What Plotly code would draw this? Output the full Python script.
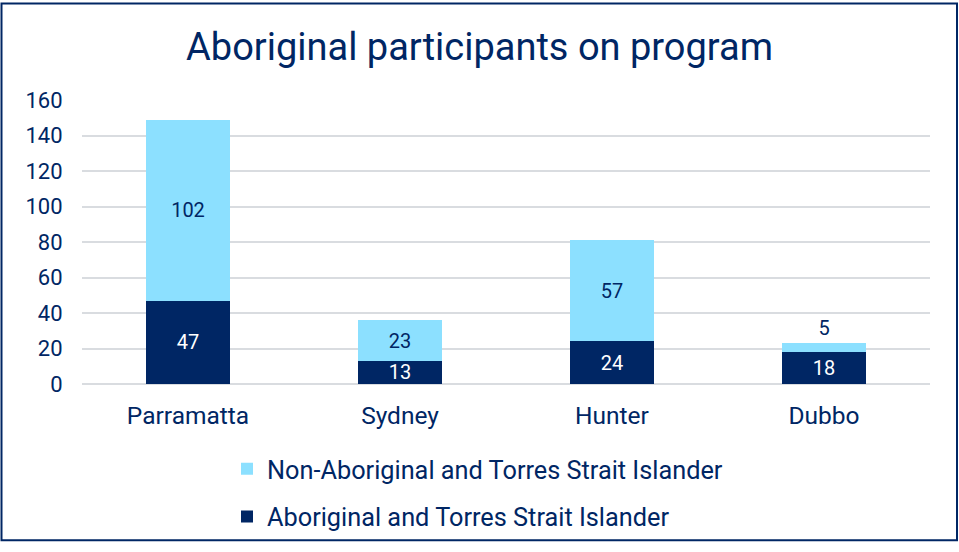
import plotly.graph_objects as go

categories = ["Parramatta", "Sydney", "Hunter", "Dubbo"]
aboriginal = [47, 13, 24, 18]
non_aboriginal = [102, 23, 57, 5]
series_names = ["Aboriginal and Torres Strait Islander", "Non-Aboriginal and Torres Strait Islander"]
y_ticks = [0, 20, 40, 60, 80, 100, 120, 140, 160]

NAVY = "#002664"
LIGHT = "#8CE0FF"
FONT = "Roboto"

W, H = 959, 552
ML, MR, MT, MB = 82, 29, 100, 162
PW, PH = W - ML - MR, H - MT - MB

fig = go.Figure()
fig.add_trace(go.Bar(
    x=categories, y=aboriginal, name=series_names[0],
    marker=dict(color=NAVY, line=dict(width=0)),
    text=aboriginal, textposition="inside", insidetextanchor="middle", textangle=0,
    textfont=dict(color="white", size=20, family=FONT),
    constraintext="none", legendgroup="a", legendrank=2, hoverinfo="skip",
))
fig.add_trace(go.Bar(
    x=categories, y=non_aboriginal, name=series_names[1],
    marker=dict(color=LIGHT, line=dict(width=0)),
    text=non_aboriginal,
    textposition=["inside", "inside", "inside", "outside"],
    insidetextanchor="middle", textangle=0,
    textfont=dict(color=NAVY, size=20, family=FONT),
    constraintext="none", cliponaxis=False, legendgroup="b", legendrank=1, hoverinfo="skip",
))

def px_x(p):
    return (p - ML) / PW

def px_y(p):
    return (H - MB - p) / PH

fig.update_layout(
    width=W, height=H,
    barmode="stack", bargap=0.6,
    margin=dict(l=ML, r=MR, t=MT, b=MB),
    paper_bgcolor="white", plot_bgcolor="white",
    font=dict(family=FONT, color=NAVY, size=20),
    title=dict(text="Aboriginal participants on program", x=0.5, xanchor="center",
               y=1 - 47 / H, yanchor="middle", yref="container",
               font=dict(size=38, color=NAVY, family=FONT)),
    xaxis=dict(showgrid=False, showline=False, ticks="outside", ticklen=10,
               tickcolor="rgba(0,0,0,0)", tickfont=dict(size=24.5, color=NAVY)),
    yaxis=dict(range=[0, 160], tickvals=y_ticks, showgrid=True, gridcolor="#D9DCE0",
               gridwidth=1.5, zeroline=True, zerolinecolor="#D9DCE0", zerolinewidth=1.5,
               showline=False, ticks="outside", ticklen=14, tickcolor="rgba(0,0,0,0)",
               tickfont=dict(size=22, color=NAVY)),
    legend=dict(orientation="v", traceorder="grouped", tracegroupgap=12,
                x=px_x(227), xanchor="left", y=px_y(453), yanchor="top",
                font=dict(size=25.3, color=NAVY, family=FONT), itemwidth=30,
                bgcolor="rgba(0,0,0,0)"),
    shapes=[dict(type="rect", xref="paper", yref="paper",
                 x0=px_x(1.5), x1=px_x(957), y0=px_y(549.5), y1=px_y(1.5),
                 line=dict(color=NAVY, width=2), fillcolor="rgba(0,0,0,0)", layer="below")],
    showlegend=True,
)

post = (
    "for (const el of [document.documentElement, document.body]) {"
    "el.style.margin='0'; el.style.padding='0'; el.style.overflow='hidden'; el.style.height='552px';}"
)
fig.write_html("out.html", post_script=post, config={"displayModeBar": False})
